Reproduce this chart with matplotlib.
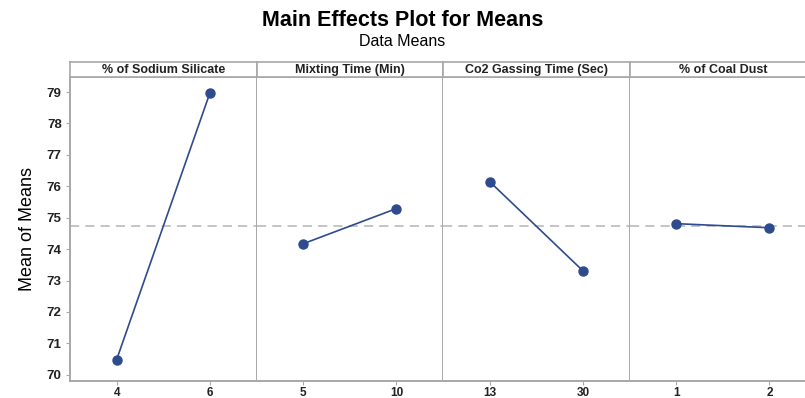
import matplotlib
matplotlib.use("Agg")
import matplotlib.pyplot as plt

# factor names and their level labels
factors = ["% of Sodium Silicate", "Mixting Time (Min)", "Co2 Gassing Time (Sec)", "% of Coal Dust"]
levels = [["4", "6"], ["5", "10"], ["13", "30"], ["1", "2"]]
means = [[70.48, 78.97], [74.17, 75.29], [76.15, 73.31], [74.81, 74.68]]
grand_mean = 74.74

plt.rcParams['font.family'] = ['Liberation Sans', 'DejaVu Sans']

W, H = 805, 398
fig = plt.figure(figsize=(W / 100, H / 100), dpi=100)

blue = "#2e4b8e"
edge = "#a8a8a8"

left = 70
pw = 186.5
top = 77
bottom = 381
strip_h = 15

for i in range(4):
    x0 = left + i * pw
    ax = fig.add_axes([x0 / W, (H - bottom) / H, pw / W, (bottom - top) / H])
    xs = list(range(len(levels[i])))
    ax.axhline(grand_mean, color="#b4b4b4", lw=1.1, ls=(0, (6, 4)), zorder=1)
    ax.plot(xs, means[i], color=blue, lw=1.2, marker="o", ms=6.5, zorder=3)
    ax.set_xlim(-0.5, 1.5)
    ax.set_ylim(69.8, 79.48)
    ax.set_xticks(xs)
    ax.set_xticklabels(levels[i], fontsize=8.5, fontweight="bold", color="#222222")
    for s in ax.spines.values():
        s.set_color(edge)
        s.set_linewidth(1.4)
    ax.tick_params(axis="x", length=3, color=edge, pad=1)
    if i == 0:
        ax.set_yticks(range(70, 80))
        ax.tick_params(axis="y", length=3, color=edge, labelsize=9.5, pad=3)
        for t in ax.get_yticklabels():
            t.set_fontweight("bold")
            t.set_color("#222222")
        ax.set_ylabel("Mean of Means", fontsize=13, labelpad=8, fontstretch="condensed")
    else:
        ax.set_yticks([])
        ax.spines["left"].set_visible(False)

    # strip header
    sx = fig.add_axes([x0 / W, (H - top) / H, pw / W, strip_h / H])
    sx.set_xticks([])
    sx.set_yticks([])
    for s in sx.spines.values():
        s.set_color(edge)
        s.set_linewidth(1.2)
    sx.text(0.5, 0.45, factors[i], ha="center", va="center", fontsize=9,
            fontweight="bold", color="#222222", transform=sx.transAxes)

fig.text(0.5, 1 - 20 / H, "Main Effects Plot for Means", ha="center", va="center",
         fontsize=15.5, fontweight="bold")
fig.text(0.5, 1 - 42 / H, "Data Means", ha="center", va="center", fontsize=11.5)

fig.savefig("out.png", dpi=100)
